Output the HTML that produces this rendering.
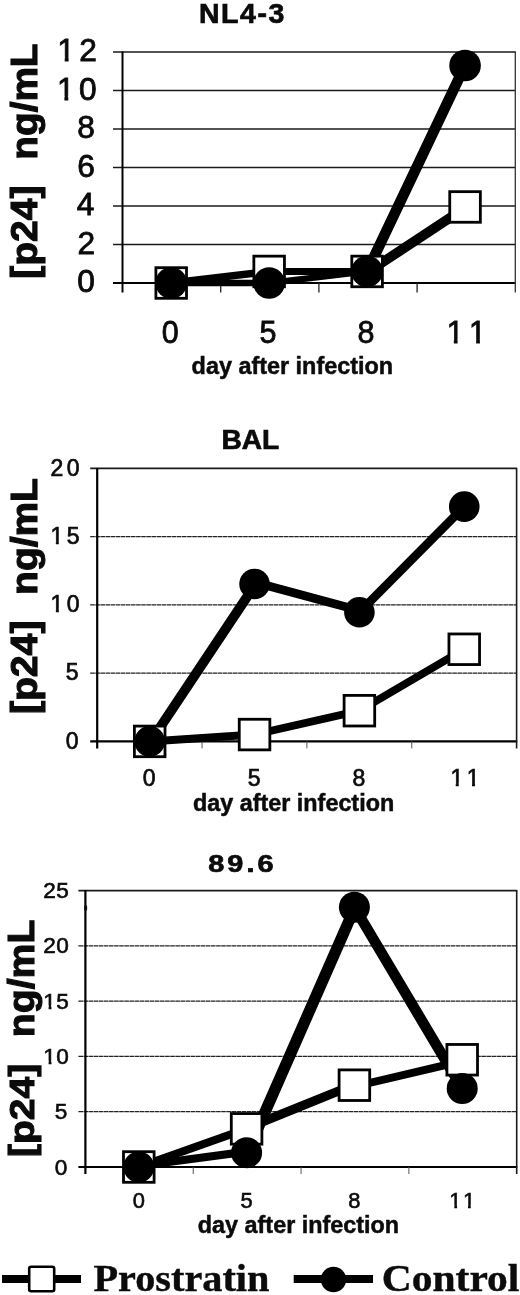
<!DOCTYPE html>
<html lang="en"><head><meta charset="utf-8"><title>p24 after infection</title>
<style>html,body{margin:0;padding:0;background:#fff}svg{display:block}text{font-family:'Liberation Sans', Arial, Helvetica, sans-serif;fill:#0b0b0b}.b{font-weight:700}.s{font-family:'Liberation Serif', 'Times New Roman', serif;font-weight:700}</style></head><body>
<svg width="520" height="1295" viewBox="0 0 520 1295">
<rect width="520" height="1295" fill="#fff"/>
<g>
<text class="b" transform="translate(198.9 22.98) scale(1.048 1)" font-size="27.18" letter-spacing="1.5" stroke="#0b0b0b" stroke-width="0.7">NL4-3</text>
<line x1="113" y1="283" x2="515.9" y2="283" stroke="#000" stroke-width="2.0"/>
<text class="r" transform="translate(0 292.23) scale(1.030 1)" x="74.91" font-size="30.8" stroke="#0b0b0b" stroke-width="0.8">0</text>
<line x1="113" y1="244.5" x2="515.3" y2="244.5" stroke="#1a1a1a" stroke-width="1.7"/>
<text class="r" transform="translate(0 253.73) scale(1.030 1)" x="75.22" font-size="30.8" stroke="#0b0b0b" stroke-width="0.8">2</text>
<line x1="113" y1="206" x2="515.3" y2="206" stroke="#1a1a1a" stroke-width="1.7"/>
<text class="r" transform="translate(0 215.23) scale(1.030 1)" x="74.61" font-size="30.8" stroke="#0b0b0b" stroke-width="0.8">4</text>
<line x1="113" y1="167.5" x2="515.3" y2="167.5" stroke="#1a1a1a" stroke-width="1.7"/>
<text class="r" transform="translate(0 176.73) scale(1.030 1)" x="75.07" font-size="30.8" stroke="#0b0b0b" stroke-width="0.8">6</text>
<line x1="113" y1="129" x2="515.3" y2="129" stroke="#1a1a1a" stroke-width="1.7"/>
<text class="r" transform="translate(0 138.23) scale(1.030 1)" x="74.91" font-size="30.8" stroke="#0b0b0b" stroke-width="0.8">8</text>
<line x1="113" y1="90.5" x2="515.3" y2="90.5" stroke="#1a1a1a" stroke-width="1.7"/>
<text class="r" transform="translate(0 99.73) scale(1.030 1)" x="55.3 76.66" font-size="30.8" stroke="#0b0b0b" stroke-width="0.8">10</text><path fill="#fff" d="M57.36,95.73H64.38V101.83H57.36ZM68.3,95.73H75.06V101.83H68.3Z"/>
<line x1="113" y1="52" x2="515.9" y2="52" stroke="#1a1a1a" stroke-width="1.7"/>
<text class="r" transform="translate(0 61.23) scale(1.030 1)" x="55.61 76.97" font-size="30.8" stroke="#0b0b0b" stroke-width="0.8">12</text><path fill="#fff" d="M57.68,57.23H64.7V63.33H57.68ZM68.62,57.23H75.38V63.33H68.62Z"/>
<line x1="122.5" y1="51.5" x2="122.5" y2="292.5" stroke="#000" stroke-width="2.0"/>
<line x1="515.3" y1="52" x2="515.3" y2="292.5" stroke="#333" stroke-width="1.3"/>
<line x1="220.7" y1="283" x2="220.7" y2="292.5" stroke="#222" stroke-width="1.3"/>
<line x1="318.9" y1="283" x2="318.9" y2="292.5" stroke="#222" stroke-width="1.3"/>
<line x1="417.1" y1="283" x2="417.1" y2="292.5" stroke="#222" stroke-width="1.3"/>
<text class="r" transform="translate(0 343.23) scale(0.990 1)" x="163.27" font-size="30.8" stroke="#0b0b0b" stroke-width="0.8">0</text>
<text class="r" transform="translate(0 343.23) scale(0.990 1)" x="262.21" font-size="30.8" stroke="#0b0b0b" stroke-width="0.8">5</text>
<text class="r" transform="translate(0 343.23) scale(0.990 1)" x="361.07" font-size="30.8" stroke="#0b0b0b" stroke-width="0.8">8</text>
<text class="r" transform="translate(0 343.23) scale(0.990 1)" x="451.22 473.74" font-size="30.8" stroke="#0b0b0b" stroke-width="0.8">11</text><path fill="#fff" d="M447.03,339.23H453.83V345.33H447.03ZM457.61,339.23H464.16V345.33H457.61Z"/><path fill="#fff" d="M469.33,339.23H476.13V345.33H469.33ZM479.91,339.23H486.46V345.33H479.91Z"/>
<text class="b" transform="translate(191.61 373.65) scale(0.964 1)" font-size="24.28" stroke="#0b0b0b" stroke-width="0.5">day after infection</text>
<text class="b" transform="translate(37.04 278.69) rotate(-90) scale(1.075 1)" font-size="36.26" stroke="#0b0b0b" stroke-width="1.1">[p24]</text>
<text class="b" transform="translate(37.11 159.67) rotate(-90) scale(1.050 1)" font-size="36.91" stroke="#0b0b0b" stroke-width="1.1">ng/mL</text>
<path fill="#000" d="M171.2,279.85 269.15,279.85 269.15,286.15 171.2,286.15ZM269.15,279.85 367.1,268.3 367.1,274.6 269.15,286.15ZM361.2,271.45 459.15,65.47 470.95,65.47 373,271.45Z"/>
<path fill="#000" d="M171.2,279.25 269.15,267.7 269.15,275.2 171.2,286.75ZM269.15,267.95 367.1,267.95 367.1,274.95 269.15,274.95ZM367.1,266.55 465.05,202.06 465.05,213.86 367.1,278.35Z"/>
<rect x="155.9" y="267.7" width="30.6" height="30.6" fill="#fff" stroke="#000" stroke-width="2.8"/>
<rect x="253.85" y="256.15" width="30.6" height="30.6" fill="#fff" stroke="#000" stroke-width="2.8"/>
<rect x="351.8" y="256.15" width="30.6" height="30.6" fill="#fff" stroke="#000" stroke-width="2.8"/>
<rect x="449.75" y="191.66" width="30.6" height="30.6" fill="#fff" stroke="#000" stroke-width="2.8"/>
<circle cx="171.2" cy="283" r="15.8" fill="#000"/>
<circle cx="269.15" cy="283" r="15.8" fill="#000"/>
<circle cx="367.1" cy="271.45" r="15.8" fill="#000"/>
<circle cx="465.05" cy="65.47" r="15.8" fill="#000"/>
</g>
<g>
<text class="b" transform="translate(221.52 449.15) scale(1.031 1)" font-size="27.25" stroke="#0b0b0b" stroke-width="0.7">BAL</text>
<line x1="90.2" y1="741.4" x2="517.2" y2="741.4" stroke="#000" stroke-width="2.2"/>
<text class="r" transform="translate(0 748.73) scale(1.000 1)" x="65.75" font-size="23" stroke="#0b0b0b" stroke-width="0.7">0</text>
<line x1="90.2" y1="673.15" x2="516.6" y2="673.15" stroke="#222" stroke-width="1.2" stroke-dasharray="4.6 0.5"/>
<text class="r" transform="translate(0 680.48) scale(1.000 1)" x="65.75" font-size="23" stroke="#0b0b0b" stroke-width="0.7">5</text>
<line x1="90.2" y1="604.9" x2="516.6" y2="604.9" stroke="#222" stroke-width="1.2" stroke-dasharray="4.6 0.5"/>
<text class="r" transform="translate(0 612.23) scale(1.000 1)" x="50.55 66.75" font-size="23" stroke="#0b0b0b" stroke-width="0.7">10</text><path fill="#fff" d="M50.35,608.87H55.84V614.28H50.35ZM58.87,608.87H64.17V614.28H58.87Z"/>
<line x1="90.2" y1="536.65" x2="516.6" y2="536.65" stroke="#222" stroke-width="1.2" stroke-dasharray="4.6 0.5"/>
<text class="r" transform="translate(0 543.98) scale(1.000 1)" x="50.55 66.75" font-size="23" stroke="#0b0b0b" stroke-width="0.7">15</text><path fill="#fff" d="M50.35,540.62H55.84V546.03H50.35ZM58.87,540.62H64.17V546.03H58.87Z"/>
<line x1="90.2" y1="468.4" x2="517.2" y2="468.4" stroke="#1a1a1a" stroke-width="1.9"/>
<text class="r" transform="translate(0 475.73) scale(1.000 1)" x="50.55 66.75" font-size="23" stroke="#0b0b0b" stroke-width="0.7">20</text>
<line x1="97.2" y1="467.9" x2="97.2" y2="748.4" stroke="#000" stroke-width="2.2"/>
<line x1="516.6" y1="468.4" x2="516.6" y2="748.4" stroke="#1a1a1a" stroke-width="1.6"/>
<line x1="202.05" y1="741.4" x2="202.05" y2="748.4" stroke="#555" stroke-width="1"/>
<line x1="306.9" y1="741.4" x2="306.9" y2="748.4" stroke="#555" stroke-width="1"/>
<line x1="411.75" y1="741.4" x2="411.75" y2="748.4" stroke="#555" stroke-width="1"/>
<text class="r" transform="translate(0 786.03) scale(1.000 1)" x="142.82" font-size="23" stroke="#0b0b0b" stroke-width="0.7">0</text>
<text class="r" transform="translate(0 786.03) scale(1.000 1)" x="247.67" font-size="23" stroke="#0b0b0b" stroke-width="0.7">5</text>
<text class="r" transform="translate(0 786.03) scale(1.000 1)" x="352.46" font-size="23" stroke="#0b0b0b" stroke-width="0.7">8</text>
<text class="r" transform="translate(0 786.03) scale(1.000 1)" x="450.43 466.73" font-size="23" stroke="#0b0b0b" stroke-width="0.7">11</text><path fill="#fff" d="M450.23,782.67H455.71V788.08H450.23ZM458.75,782.67H464.04V788.08H458.75Z"/><path fill="#fff" d="M466.53,782.67H472.01V788.08H466.53ZM475.05,782.67H480.34V788.08H475.05Z"/>
<text class="b" transform="translate(192.92 810.69) scale(0.989 1)" font-size="23.64" stroke="#0b0b0b" stroke-width="0.5">day after infection</text>
<text class="b" transform="translate(37.04 714.1) rotate(-90) scale(1.080 1)" font-size="36.26" stroke="#0b0b0b" stroke-width="1.1">[p24]</text>
<text class="b" transform="translate(37.11 594.88) rotate(-90) scale(1.055 1)" font-size="36.91" stroke="#0b0b0b" stroke-width="1.1">ng/mL</text>
<path fill="#000" d="M144.85,741.4 249.7,584.02 261.4,584.02 156.55,741.4ZM254.55,577.82 359.4,606.07 359.4,615.07 254.55,586.82ZM353.3,612.27 458.15,506.62 470.35,506.62 365.5,612.27Z"/>
<path fill="#000" d="M149.7,737.4 254.55,730.57 254.55,738.57 149.7,745.4ZM254.55,730.57 359.4,706.69 359.4,714.69 254.55,738.57ZM359.4,706.19 464.25,644.76 464.25,653.76 359.4,715.19Z"/>
<rect x="134.4" y="726.1" width="30.6" height="30.6" fill="#fff" stroke="#000" stroke-width="2.8"/>
<rect x="239.25" y="719.27" width="30.6" height="30.6" fill="#fff" stroke="#000" stroke-width="2.8"/>
<rect x="344.1" y="695.39" width="30.6" height="30.6" fill="#fff" stroke="#000" stroke-width="2.8"/>
<rect x="448.95" y="633.96" width="30.6" height="30.6" fill="#fff" stroke="#000" stroke-width="2.8"/>
<circle cx="149.7" cy="741.4" r="15.3" fill="#000"/>
<circle cx="254.55" cy="584.02" r="15.3" fill="#000"/>
<circle cx="359.4" cy="612.27" r="15.3" fill="#000"/>
<circle cx="464.25" cy="506.62" r="15.3" fill="#000"/>
</g>
<g>
<text class="b" transform="translate(208.23 871.91) scale(1.185 1)" font-size="24.37" letter-spacing="2.6" stroke="#0b0b0b" stroke-width="0.7">89.6</text>
<line x1="78.4" y1="1167" x2="517.3" y2="1167" stroke="#000" stroke-width="2.2"/>
<text class="r" transform="translate(0 1174.5) scale(1.000 1)" x="54.66" font-size="22.6" stroke="#0b0b0b" stroke-width="0.6">0</text>
<line x1="78.4" y1="1111.72" x2="516.7" y2="1111.72" stroke="#222" stroke-width="1.2" stroke-dasharray="4.6 0.5"/>
<text class="r" transform="translate(0 1119.22) scale(1.000 1)" x="54.66" font-size="22.6" stroke="#0b0b0b" stroke-width="0.6">5</text>
<line x1="78.4" y1="1056.44" x2="516.7" y2="1056.44" stroke="#222" stroke-width="1.2" stroke-dasharray="4.6 0.5"/>
<text class="r" transform="translate(0 1063.94) scale(1.000 1)" x="43.36 56.16" font-size="22.6" stroke="#0b0b0b" stroke-width="0.6">10</text><path fill="#fff" d="M43.18,1060.65H48.59V1065.94H43.18ZM51.49,1060.65H56.72V1065.94H51.49Z"/>
<line x1="78.4" y1="1001.16" x2="516.7" y2="1001.16" stroke="#222" stroke-width="1.2" stroke-dasharray="4.6 0.5"/>
<text class="r" transform="translate(0 1008.66) scale(1.000 1)" x="43.36 56.16" font-size="22.6" stroke="#0b0b0b" stroke-width="0.6">15</text><path fill="#fff" d="M43.18,1005.37H48.59V1010.66H43.18ZM51.49,1005.37H56.72V1010.66H51.49Z"/>
<line x1="78.4" y1="945.88" x2="516.7" y2="945.88" stroke="#222" stroke-width="1.2" stroke-dasharray="4.6 0.5"/>
<text class="r" transform="translate(0 953.38) scale(1.000 1)" x="43.36 56.16" font-size="22.6" stroke="#0b0b0b" stroke-width="0.6">20</text>
<line x1="78.4" y1="890.6" x2="517.3" y2="890.6" stroke="#1a1a1a" stroke-width="1.9"/>
<text class="r" transform="translate(0 898.1) scale(1.000 1)" x="43.36 56.16" font-size="22.6" stroke="#0b0b0b" stroke-width="0.6">25</text>
<line x1="85.4" y1="890.1" x2="85.4" y2="1174" stroke="#000" stroke-width="2.2"/>
<line x1="516.7" y1="890.6" x2="516.7" y2="1174" stroke="#1a1a1a" stroke-width="1.6"/>
<line x1="193.23" y1="1167" x2="193.23" y2="1174" stroke="#555" stroke-width="1"/>
<line x1="301.05" y1="1167" x2="301.05" y2="1174" stroke="#555" stroke-width="1"/>
<line x1="408.88" y1="1167" x2="408.88" y2="1174" stroke="#555" stroke-width="1"/>
<text class="r" transform="translate(0 1208.4) scale(0.970 1)" x="136.82" font-size="22.6" stroke="#0b0b0b" stroke-width="0.6">0</text>
<text class="r" transform="translate(0 1208.4) scale(0.970 1)" x="247.96" font-size="22.6" stroke="#0b0b0b" stroke-width="0.6">5</text>
<text class="r" transform="translate(0 1208.4) scale(0.970 1)" x="359.03" font-size="22.6" stroke="#0b0b0b" stroke-width="0.6">8</text>
<text class="r" transform="translate(0 1208.4) scale(0.970 1)" x="463.09 477.21" font-size="22.6" stroke="#0b0b0b" stroke-width="0.6">11</text><path fill="#fff" d="M448.97,1205.11H454.27V1210.4H448.97ZM457.08,1205.11H462.2V1210.4H457.08Z"/><path fill="#fff" d="M462.67,1205.11H467.97V1210.4H462.67ZM470.78,1205.11H475.9V1210.4H470.78Z"/>
<text class="b" transform="translate(197.81 1232.84) scale(0.980 1)" font-size="23.85" stroke="#0b0b0b" stroke-width="0.5">day after infection</text>
<text class="b" transform="translate(33.9 1157) rotate(-90) scale(1.087 1)" font-size="35.94" stroke="#0b0b0b" stroke-width="1.1">[p24]</text>
<text class="b" transform="translate(34.21 1037.2) rotate(-90) scale(1.062 1)" font-size="36.91" stroke="#0b0b0b" stroke-width="1.1">ng/mL</text>
<path fill="#000" d="M138.8,1161.9 246.6,1147.53 246.6,1155.73 138.8,1170.1ZM241,1152.63 348.8,907.18 361.2,907.18 253.4,1152.63ZM348.25,907.18 456.05,1088.5 468.35,1088.5 360.55,907.18Z"/>
<path fill="#000" d="M138.8,1162.75 246.6,1124.61 246.6,1133.11 138.8,1171.25ZM246.6,1123.36 354.4,1079.69 354.4,1089.49 246.6,1133.16ZM354.4,1082.39 462.2,1056.96 462.2,1065.16 354.4,1090.59Z"/>
<rect x="123.5" y="1151.7" width="30.6" height="30.6" fill="#fff" stroke="#000" stroke-width="2.8"/>
<rect x="231.3" y="1113.56" width="30.6" height="30.6" fill="#fff" stroke="#000" stroke-width="2.8"/>
<rect x="339.1" y="1069.89" width="30.6" height="30.6" fill="#fff" stroke="#000" stroke-width="2.8"/>
<rect x="446.9" y="1044.46" width="30.6" height="30.6" fill="#fff" stroke="#000" stroke-width="2.8"/>
<circle cx="138.8" cy="1167" r="15.5" fill="#000"/>
<circle cx="246.6" cy="1152.63" r="15.5" fill="#000"/>
<circle cx="354.4" cy="907.18" r="15.5" fill="#000"/>
<circle cx="462.2" cy="1088.5" r="15.5" fill="#000"/>
</g>
<ellipse cx="85.6" cy="908" rx="1.6" ry="3" fill="#111"/>
<g>
<line x1="2" y1="1279" x2="81" y2="1279" stroke="#000" stroke-width="8"/>
<rect x="29.2" y="1266.7" width="25" height="24.6" rx="2" fill="#fff" stroke="#000" stroke-width="2.6"/>
<text class="s" transform="translate(93.4 1291.01) scale(1.045 1)" font-size="38.57" stroke="#0b0b0b" stroke-width="0.4">Prostratin</text>
<line x1="293.7" y1="1279" x2="373" y2="1279" stroke="#000" stroke-width="8"/>
<circle cx="333.5" cy="1279.5" r="12.7" fill="#000"/>
<text class="s" transform="translate(381.72 1291.02) scale(1.085 1)" font-size="38.29" stroke="#0b0b0b" stroke-width="0.4">Control</text>
</g>
</svg></body></html>
